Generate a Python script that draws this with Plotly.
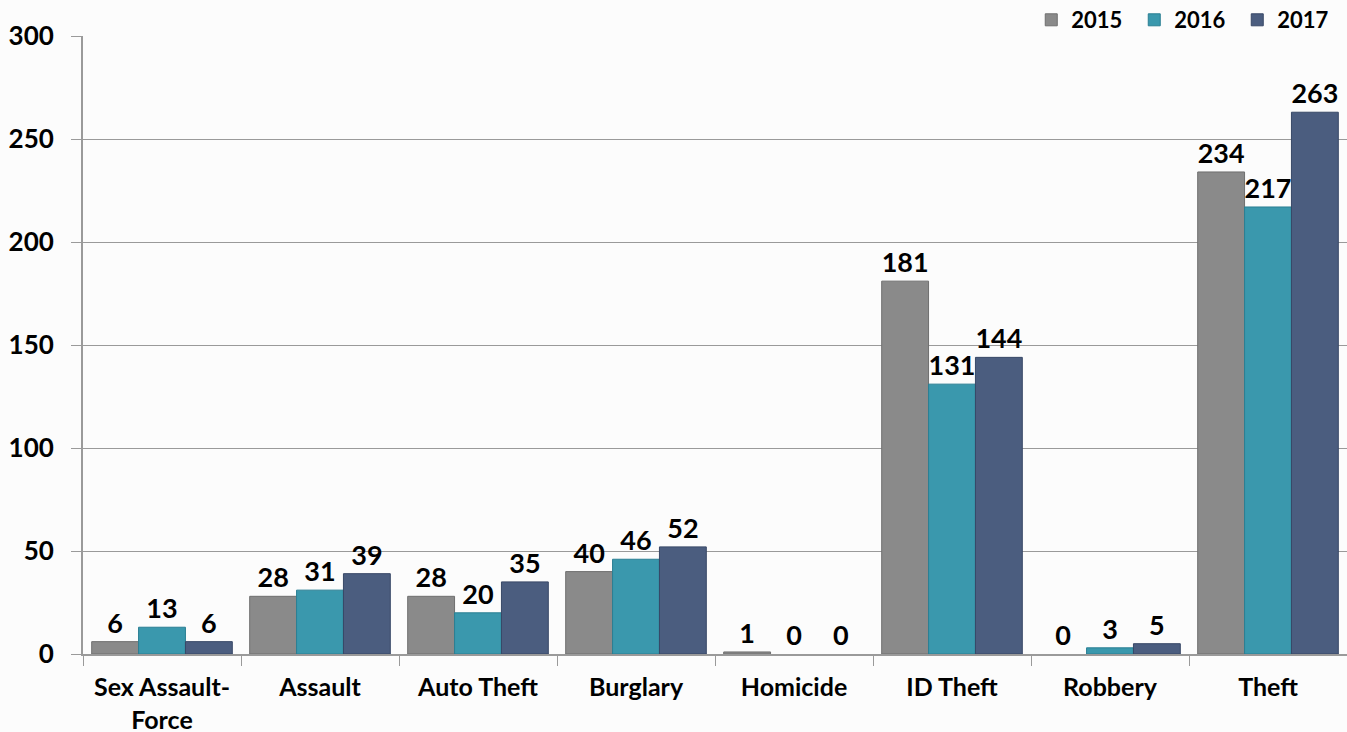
import plotly.graph_objects as go

categories = ["Sex Assault-<br>Force", "Assault", "Auto Theft", "Burglary", "Homicide", "ID Theft", "Robbery", "Theft"]
years = ["2015", "2016", "2017"]
values_2015 = [6, 28, 28, 40, 1, 181, 0, 234]
values_2016 = [13, 31, 20, 46, 0, 131, 3, 217]
values_2017 = [6, 39, 35, 52, 0, 144, 5, 263]
colors = ["#8a8a8a", "#3a98ad", "#4b5d7f"]
line_colors = ["#6f6f6f", "#2a7f93", "#384867"]

FONT = "Lato"
fig = go.Figure()
for name, vals, c, lc in zip(years, [values_2015, values_2016, values_2017], colors, line_colors):
    fig.add_trace(go.Bar(
        x=categories, y=vals, name=name,
        marker=dict(color=c, line=dict(color=lc, width=[1 if v > 0 else 0 for v in vals])),
        text=[str(v) for v in vals], textposition="outside",
        textfont=dict(family=FONT, size=27, color="black", weight="bold"),
        cliponaxis=False,
    ))

fig.update_layout(
    barmode="group", bargap=0.11, bargroupgap=0,
    width=1347, height=732,
    margin=dict(l=83, r=0, t=36, b=78, autoexpand=False),
    paper_bgcolor="#fcfcfc", plot_bgcolor="rgba(0,0,0,0)",
    font=dict(family=FONT, color="black"),
    legend=dict(orientation="h", xref="container", x=0.995, xanchor="right",
                yref="container", y=1 - 20 / 732, yanchor="middle",
                font=dict(family=FONT, size=22, weight="bold"), bgcolor="rgba(0,0,0,0)",
                traceorder="normal", entrywidth=58, entrywidthmode="pixels", itemwidth=30),
)
fig.update_yaxes(range=[0, 300], dtick=50, showgrid=True, gridcolor="#9a9a9a", gridwidth=1,
                 showline=True, linecolor="#9a9a9a", linewidth=2, ticks="outside", ticklen=10,
                 tickcolor="#9a9a9a", tickfont=dict(family=FONT, size=26, weight="bold"),
                 ticklabelstandoff=12, zeroline=False)
fig.update_xaxes(showline=True, linecolor="#9a9a9a", linewidth=2, ticks="outside", ticklen=10,
                 tickcolor="#9a9a9a", tickson="boundaries", ticklabelstandoff=10,
                 tickfont=dict(family=FONT, size=25, weight="bold"))
fig.write_html("out.html", config={"displayModeBar": False},
               post_script="document.body.style.margin='0';document.body.style.overflow='hidden';")
